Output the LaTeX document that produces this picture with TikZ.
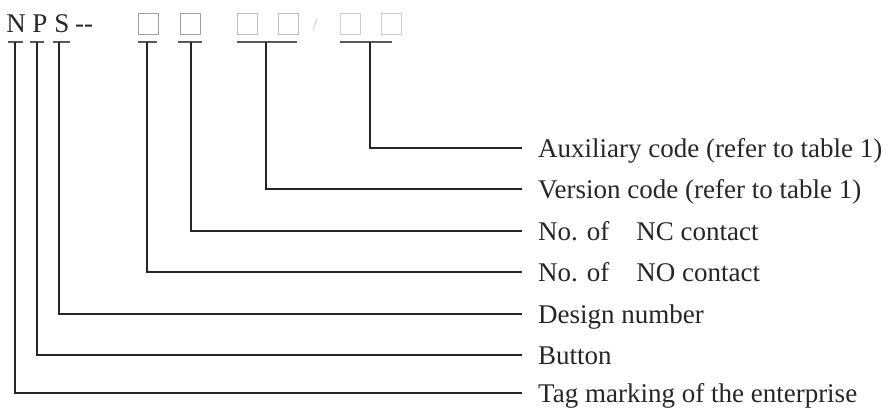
\documentclass[tikz,border=0pt]{standalone}
\usepackage{fontspec}
\setmainfont{Liberation Serif}
\begin{document}
\begin{tikzpicture}[x=1pt,y=-1pt,
  lab/.style={anchor=west, inner xsep=16pt, inner ysep=0pt, text height=18pt, text depth=0pt, font=\fontsize{27}{30}\selectfont, text=black!85},
  code/.style={anchor=base, inner sep=0pt, font=\fontsize{27}{30}\selectfont, text=black!85},
  conn/.style={line width=1.6pt, black!85},
  ul/.style={line width=2pt, black!65},
  slot/.style={draw=gray!75, line width=1pt, minimum width=20pt, minimum height=21pt, inner sep=0pt}]
\useasboundingbox (0,0) rectangle (888,412);

% designation code
\node[code] (cN) at (16,33) {N};
\node[code] (cP) at (40,33) {P};
\node[code] (cS) at (62,33) {S};
\node[code] (cD) at (84,33) {-{}-};
\node[slot] (b1) at (148,24) {};
\node[slot] (b2) at (190,24) {};
\node[slot,draw=gray!50] (b3) at (247,24) {};
\node[slot,draw=gray!50] (b4) at (288,24) {};
\node[inner sep=0pt, font=\fontsize{18}{20}\selectfont, text=gray!45] (sl) at (315,25) {/};
\node[slot,draw=gray!40] (b5) at (350,24) {};
\node[slot,draw=gray!40] (b6) at (391,24) {};

% underlines
\draw[ul] (8,42) -- (23,42);
\draw[ul] (30,42) -- (44,42);
\draw[ul] (53,42) -- (70,42);
\draw[ul] (138,42) -- (157,42);
\draw[ul] (178,42) -- (202,42);
\draw[ul] (237,42) -- (297,42);
\draw[ul] (340,42) -- (392,42);

\coordinate (tN) at (15,42);
\coordinate (tP) at (37,42);
\coordinate (tS) at (59,42);
\coordinate (t1) at (147,42);
\coordinate (t2) at (191,42);
\coordinate (t34) at (266,42);
\coordinate (t56) at (370,42);

% labels
\node[lab] (lAux) at (522,148) {Auxiliary code (refer to table 1)};
\node[lab] (lVer) at (522,189) {Version code (refer to table 1)};
\node[lab] (lNC)  at (522,231) {No. of\hspace*{27pt}NC contact};
\node[lab] (lNO)  at (522,272) {No. of\hspace*{27pt}NO contact};
\node[lab] (lDes) at (522,314) {Design number};
\node[lab] (lBut) at (522,355) {Button};
\node[lab] (lTag) at (522,393) {Tag marking of the enterprise};

% connectors
\draw[conn] (t56) |- (lAux.west);
\draw[conn] (t34) |- (lVer.west);
\draw[conn] (t2)  |- (lNC.west);
\draw[conn] (t1)  |- (lNO.west);
\draw[conn] (tS)  |- (lDes.west);
\draw[conn] (tP)  |- (lBut.west);
\draw[conn] (tN)  |- (lTag.west);
\end{tikzpicture}
\end{document}
